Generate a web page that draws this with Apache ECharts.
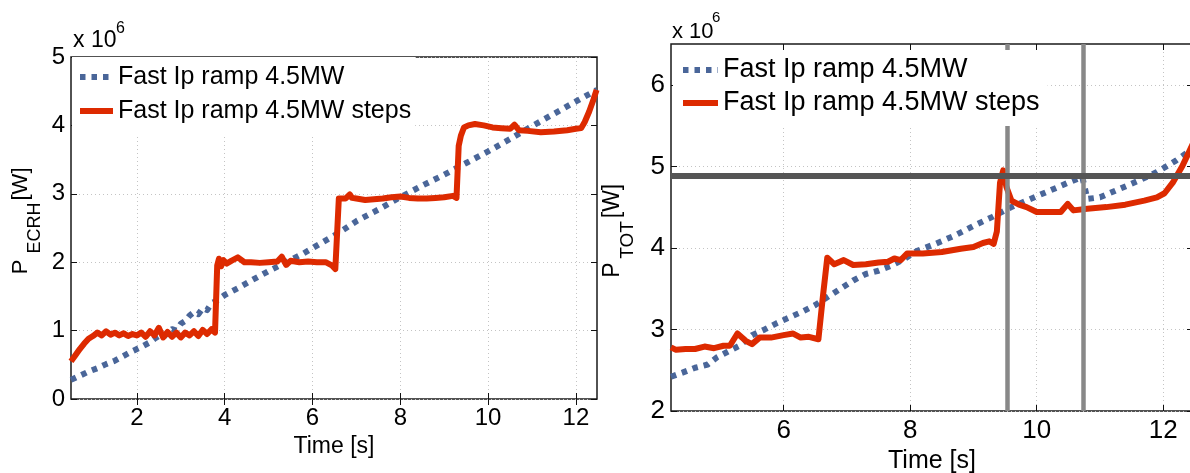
<!DOCTYPE html>
<html><head><meta charset="utf-8">
<script src="https://cdn.jsdelivr.net/npm/echarts@6/dist/echarts.min.js"></script>
<style>html,body{margin:0;padding:0;background:#fff}#c{width:1190px;height:473px}</style>
</head><body><div id="c"></div>
<script>
// ---- data (time [s], power [x 1e6 W]) ----
const ecrhRamp = [[0.5,0.28],[0.7,0.34],[0.9,0.4],[1.1,0.45],[1.3,0.51],[1.5,0.56],[1.7,0.63],[1.9,0.7],[2.1,0.76],[2.3,0.83],[2.4,0.88],[2.5,0.92],[2.6,0.9],[2.7,0.97],[2.8,1.02],[2.9,1.0],[3.0,1.1],[3.1,1.14],[3.2,1.22],[3.3,1.27],[3.4,1.24],[3.5,1.33],[3.6,1.3],[3.7,1.4],[3.8,1.43],[4.0,1.52],[4.3,1.62],[4.6,1.73],[5.0,1.87],[5.4,2.0],[5.8,2.13],[6.2,2.28],[6.6,2.43],[7.0,2.6],[7.5,2.77],[8.0,2.95],[8.5,3.12],[9.0,3.28],[9.5,3.45],[10.0,3.62],[10.5,3.8],[11.0,3.99],[11.5,4.17],[12.0,4.35],[12.48,4.52]];
const ecrhSteps = [[0.5,0.55],[0.6,0.64],[0.7,0.73],[0.8,0.81],[0.9,0.88],[1.0,0.92],[1.1,0.97],[1.2,0.93],[1.3,0.99],[1.4,0.94],[1.5,0.97],[1.6,0.93],[1.7,0.96],[1.8,0.92],[1.9,0.95],[2.0,0.93],[2.1,0.97],[2.2,0.91],[2.3,0.99],[2.4,0.93],[2.5,1.04],[2.6,0.9],[2.7,0.98],[2.8,0.91],[2.9,0.97],[3.0,0.9],[3.1,0.97],[3.2,0.93],[3.3,0.99],[3.4,0.92],[3.5,1.01],[3.6,0.95],[3.7,1.02],[3.78,0.97],[3.83,1.95],[3.87,2.05],[3.92,1.94],[3.97,2.03],[4.05,1.98],[4.15,2.02],[4.3,2.07],[4.45,2.0],[4.6,2.0],[4.8,1.99],[5.0,2.0],[5.2,2.01],[5.3,2.08],[5.4,1.96],[5.5,2.02],[5.7,2.0],[5.9,2.01],[6.1,2.0],[6.3,2.0],[6.45,1.95],[6.52,1.9],[6.6,2.93],[6.75,2.93],[6.85,2.99],[6.9,2.94],[7.0,2.93],[7.2,2.91],[7.4,2.92],[7.6,2.93],[7.8,2.95],[8.0,2.96],[8.2,2.94],[8.4,2.93],[8.6,2.93],[8.8,2.94],[9.0,2.95],[9.2,2.97],[9.28,2.94],[9.33,3.7],[9.38,3.85],[9.45,3.97],[9.55,4.0],[9.7,4.02],[9.9,4.0],[10.1,3.97],[10.3,3.96],[10.5,3.95],[10.6,4.01],[10.7,3.93],[10.9,3.92],[11.2,3.9],[11.5,3.91],[11.8,3.93],[12.0,3.95],[12.12,3.96],[12.2,4.05],[12.3,4.2],[12.4,4.38],[12.47,4.52]];
const totRamp = [[4.22,2.42],[4.4,2.47],[4.6,2.53],[4.8,2.57],[4.95,2.66],[5.1,2.72],[5.3,2.8],[5.5,2.93],[5.7,3.0],[5.9,3.08],[6.1,3.15],[6.3,3.22],[6.5,3.3],[6.7,3.4],[6.9,3.5],[7.1,3.6],[7.3,3.68],[7.5,3.72],[7.7,3.78],[7.9,3.86],[8.1,3.96],[8.4,4.05],[8.7,4.15],[9.0,4.27],[9.3,4.38],[9.6,4.5],[9.9,4.6],[10.2,4.7],[10.5,4.8],[10.72,4.87],[10.8,4.6],[11.0,4.62],[11.3,4.72],[11.6,4.82],[11.9,4.93],[12.2,5.07],[12.47,5.22]];
const totSteps = [[4.22,2.78],[4.3,2.75],[4.45,2.76],[4.6,2.76],[4.75,2.79],[4.9,2.77],[5.05,2.8],[5.15,2.8],[5.27,2.95],[5.4,2.86],[5.5,2.82],[5.62,2.9],[5.8,2.9],[6.0,2.93],[6.15,2.95],[6.27,2.9],[6.4,2.91],[6.55,2.88],[6.62,3.4],[6.69,3.88],[6.8,3.8],[6.95,3.85],[7.1,3.79],[7.3,3.8],[7.5,3.82],[7.65,3.83],[7.75,3.87],[7.85,3.85],[7.95,3.93],[8.2,3.93],[8.5,3.95],[8.8,3.99],[9.0,4.01],[9.15,4.06],[9.25,4.08],[9.32,4.05],[9.37,4.2],[9.42,4.8],[9.47,4.95],[9.52,4.75],[9.6,4.58],[9.72,4.53],[9.84,4.5],[10.0,4.44],[10.38,4.44],[10.49,4.54],[10.58,4.46],[10.8,4.48],[11.1,4.5],[11.4,4.53],[11.7,4.58],[11.9,4.62],[12.02,4.67],[12.15,4.8],[12.3,5.0],[12.47,5.28]];
const legendNames = ['Fast Ip ramp 4.5MW', 'Fast Ip ramp 4.5MW steps'];
const leftXTicks = [2, 4, 6, 8, 10, 12];
const leftYTicks = [0, 1, 2, 3, 4, 5];
const rightXTicks = [6, 8, 10, 12];
const rightYTicks = [2, 3, 4, 5, 6];
const markTimes = [9.54, 10.74];
const markPower = [4.88];

const FONT = "'Liberation Sans', Arial, Helvetica, sans-serif";
const BLUE = '#4a6699', RED = '#dd2a00';
const chart = echarts.init(document.getElementById('c'), null, {renderer: 'canvas'});

function gridLine() { return {show: true, lineStyle: {color: '#c4c4c4', width: 1, type: [1, 3]}}; }
function tick(vals) { return {show: true, inside: true, length: 6, customValues: vals, lineStyle: {color: '#111', width: 1}}; }

function xMain(gi, min, max, ticks, fs, nameFs, gap) {
  return {gridIndex: gi, type: 'value', min, max, position: 'bottom',
    axisLine: {show: false}, axisTick: tick(ticks),
    axisLabel: {customValues: ticks, fontSize: fs, color: '#000', fontFamily: FONT, margin: 7, hideOverlap: false},
    splitLine: gridLine(),
    name: 'Time [s]', nameLocation: 'middle', nameGap: gap,
    nameTextStyle: {fontSize: nameFs, color: '#000', fontFamily: FONT}};
}
function xTop(gi, min, max, ticks) {
  return {gridIndex: gi, type: 'value', min, max, position: 'top',
    axisLine: {show: false}, axisTick: tick(ticks), axisLabel: {show: false}, splitLine: {show: false}};
}
function yMain(gi, min, max, ticks, fs) {
  return {gridIndex: gi, type: 'value', min, max, position: 'left',
    axisLine: {show: false}, axisTick: tick(ticks),
    axisLabel: {customValues: ticks, fontSize: fs, color: '#000', fontFamily: FONT, margin: 6, hideOverlap: false},
    splitLine: gridLine()};
}
function yRight(gi, min, max, ticks) {
  return {gridIndex: gi, type: 'value', min, max, position: 'right',
    axisLine: {show: false}, axisTick: tick(ticks), axisLabel: {show: false}, splitLine: {show: false}};
}
function lineSeries(name, data, xi, yi, color, dotted) {
  return {name, type: 'line', data, xAxisIndex: xi, yAxisIndex: yi, symbol: 'none', showSymbol: false,
    animation: false, silent: true, z: dotted ? 2 : 3, color,
    itemStyle: {color},
    lineStyle: {color, width: 6, type: dotted ? [5.5, 6] : 'solid', cap: 'butt', join: 'round'}};
}
// rotated axis-title pieces (real text)
function vText(x, y, text, fs) {
  return {type: 'text', x, y, rotation: Math.PI / 2, silent: true,
    style: {text, font: fs + "px 'Liberation Sans', Arial", fill: '#000', align: 'center', verticalAlign: 'middle'}};
}
const gridBase = {show: true, borderColor: '#1a1a1a', borderWidth: 1.5, backgroundColor: 'transparent', containLabel: false, outerBoundsMode: 'none'};
function legendCfg(left, top, fs, gap, pad, w) {
  return {data: legendNames, orient: 'vertical', left, top, itemWidth: w, itemHeight: 14, itemGap: gap,
    padding: pad, backgroundColor: '#fff', borderWidth: 0, selectedMode: false, z: 6,
    itemStyle: {opacity: 0}, lineStyle: {width: 6, inactiveWidth: 6},
    textStyle: {fontSize: fs, lineHeight: 30, color: '#000', fontFamily: FONT}};
}

const option = {
  backgroundColor: '#fff',
  animation: false,
  textStyle: {fontFamily: FONT},
  grid: [
    Object.assign({left: 71, top: 57, width: 526, height: 342}, gridBase),
    Object.assign({left: 671, top: 44, width: 522, height: 367}, gridBase)
  ],
  xAxis: [
    xMain(0, 0.5, 12.48, leftXTicks, 24, 23, 29),
    xTop(0, 0.5, 12.48, leftXTicks),
    xMain(1, 4.22, 12.47, rightXTicks, 26, 25, 30),
    xTop(1, 4.22, 12.47, rightXTicks)
  ],
  yAxis: [
    yMain(0, 0, 5, leftYTicks, 24),
    yRight(0, 0, 5, leftYTicks),
    yMain(1, 2, 6.5, rightYTicks, 26),
    yRight(1, 2, 6.5, rightYTicks)
  ],
  legend: [
    legendCfg(72, 57, 25, 4, [5, 4, 8, 5], 33),
    legendCfg(673, 50, 27, 3, [5, 8, 8, 7], 35)
  ],
  graphic: [
    {type: 'text', left: 73, top: 29, style: {text: 'x 10', font: "23px 'Liberation Sans', Arial", fill: '#000'}},
    {type: 'text', left: 116, top: 21, style: {text: '6', font: "16px 'Liberation Sans', Arial", fill: '#000'}},
    {type: 'text', left: 672, top: 21, style: {text: 'x 10', font: "22px 'Liberation Sans', Arial", fill: '#000'}},
    {type: 'text', left: 712, top: 10, style: {text: '6', font: "15px 'Liberation Sans', Arial", fill: '#000'}},
    vText(21, 267, 'P', 22),
    vText(35, 228, 'ECRH', 18),
    vText(21, 184, '[W]', 22),
    vText(613, 270, 'P', 23),
    vText(628, 240, 'TOT', 19),
    vText(613, 201, '[W]', 23)
  ],
  series: [
    lineSeries(legendNames[0], ecrhRamp, 0, 0, BLUE, true),
    lineSeries(legendNames[1], ecrhSteps, 0, 0, RED, false),
    lineSeries(legendNames[0], totRamp, 2, 2, BLUE, true),
    lineSeries(legendNames[1], totSteps, 2, 2, RED, false),
    {type: 'line', xAxisIndex: 2, yAxisIndex: 2, data: [], silent: true, animation: false, z: 4,
     markLine: {silent: true, symbol: 'none', z: 4, animation: false, label: {show: false},
       data: [
         ...markTimes.map(t => ({xAxis: t, lineStyle: {color: '#888', width: 4.5, type: 'solid'}})),
         ...markPower.map(p => ({yAxis: p, lineStyle: {color: '#555', width: 6, type: 'solid'}}))
       ]}}
  ]
};
chart.setOption(option);
</script>
</body></html>
